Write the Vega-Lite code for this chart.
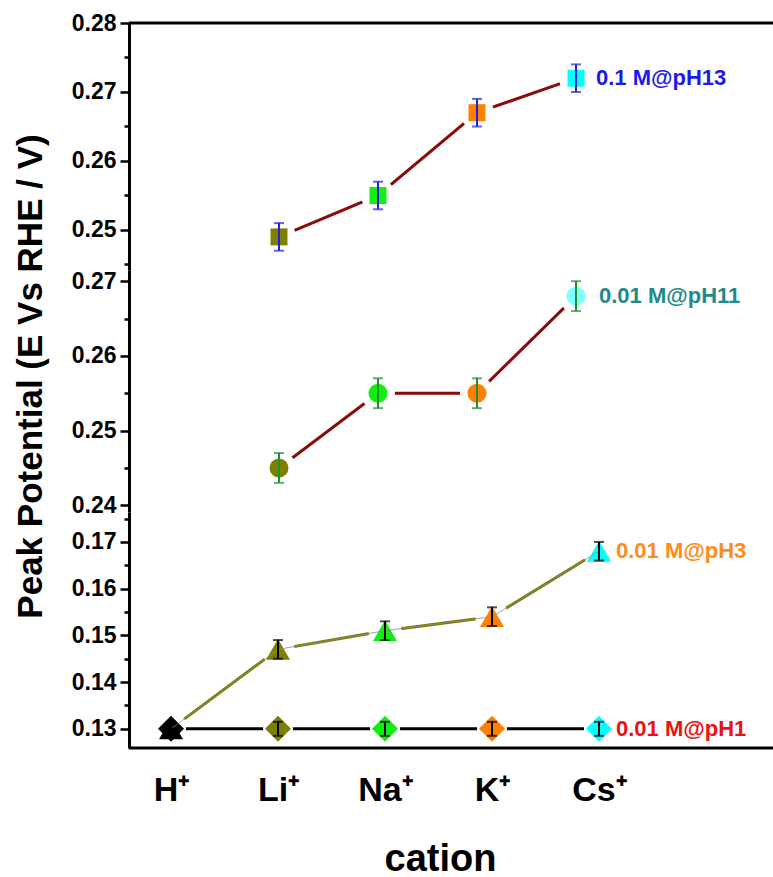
{
  "$schema": "https://vega.github.io/schema/vega-lite/v6.json",
  "padding": {"left": 12, "top": 12, "right": 0, "bottom": 0},
  "background": "white",
  "spacing": 0,
  "bounds": "flush",
  "config": {
    "view": {"stroke": null},
    "font": "Liberation Sans",
    "axis": {"labelFont": "Liberation Sans", "titleFont": "Liberation Sans", "labelFontWeight": "bold", "titleFontWeight": "bold", "domainColor": "black", "tickColor": "black", "labelColor": "black", "titleColor": "black", "grid": false, "zindex": 1},
    "text": {"font": "Liberation Sans", "fontWeight": "bold"}
  },
  "datasets": {
    "pH13": [
      {"cation": "Li", "v": 0.249, "e": 0.002},
      {"cation": "Na", "v": 0.255, "e": 0.002},
      {"cation": "K", "v": 0.267, "e": 0.002},
      {"cation": "Cs", "v": 0.272, "e": 0.002}
    ],
    "pH11": [
      {"cation": "Li", "v": 0.245, "e": 0.002},
      {"cation": "Na", "v": 0.255, "e": 0.002},
      {"cation": "K", "v": 0.255, "e": 0.002},
      {"cation": "Cs", "v": 0.268, "e": 0.002}
    ],
    "pH3": [
      {"cation": "H", "v": 0.13, "e": 0},
      {"cation": "Li", "v": 0.147, "e": 0.002},
      {"cation": "Na", "v": 0.151, "e": 0.002},
      {"cation": "K", "v": 0.154, "e": 0.002},
      {"cation": "Cs", "v": 0.168, "e": 0.002}
    ],
    "pH1": [
      {"cation": "H", "v": 0.13, "e": 0.0015},
      {"cation": "Li", "v": 0.13, "e": 0.0015},
      {"cation": "Na", "v": 0.13, "e": 0.0015},
      {"cation": "K", "v": 0.13, "e": 0.0015},
      {"cation": "Cs", "v": 0.13, "e": 0.0015}
    ],
    "labels": [
      {"series": "pH13", "cation": "Cs", "v": 0.272, "text": "0.1 M@pH13"},
      {"series": "pH11", "cation": "Cs", "v": 0.268, "text": "0.01 M@pH11"},
      {"series": "pH3", "cation": "Cs", "v": 0.168, "text": "0.01 M@pH3"},
      {"series": "pH1", "cation": "Cs", "v": 0.13, "text": "0.01 M@pH1"}
    ]
  },
  "resolve": {"scale": {"x": "independent", "y": "independent", "color": "shared"}},
  "vconcat": [
    {
      "width": 645,
      "height": 247,
      "layer": [
        {
          "data": {"name": "pH13"},
          "encoding": {
            "x": {"field": "cation", "type": "nominal", "scale": {"type": "point", "domain": ["H", "Li", "Na", "K", "Cs"], "padding": 0, "range": [51, 447]}, "axis": null},
            "y": {"field": "v", "type": "quantitative", "scale": {"domain": [0.2442, 0.28], "nice": false, "zero": false},
              "axis": {"values": [0.245, 0.25, 0.255, 0.26, 0.265, 0.27, 0.275, 0.28], "labelExpr": "round(datum.value*1000) % 10 == 0 ? format(datum.value, '.2f') : ''", "tickSize": {"condition": {"test": "round(datum.value*1000) % 10 != 0", "value": 5}, "value": 9}, "tickWidth": 2.5, "domainWidth": 3, "labelFontSize": 23, "labelPadding": 4, "labelOverlap": false, "title": null}}
          },
          "layer": [
            {"mark": {"type": "line", "color": "#8b0a0a", "strokeWidth": 3}, "encoding": {"order": {"value": null}}},
            {"mark": {"type": "point", "filled": true, "shape": "circle", "size": 1150, "color": "white", "opacity": 1}},
            {"mark": {"type": "point", "filled": true, "shape": "square", "size": 289, "opacity": 1},
              "encoding": {"color": {"field": "cation", "type": "nominal", "scale": {"domain": ["H", "Li", "Na", "K", "Cs"], "range": ["#000000", "#808000", "#11ee11", "#ff8000", "#00ffff"]}, "legend": null}}},
            {"mark": {"type": "errorbar", "ticks": true, "size": 10, "thickness": 2, "color": "#2020e0"}, "encoding": {"yError": {"field": "e"}}},
            {"data": {"name": "labels"}, "transform": [{"filter": "datum.series == 'pH13'"}],
              "mark": {"type": "text", "align": "left", "baseline": "middle", "dx": 20, "fontSize": 22, "color": "#1a1aee"},
              "encoding": {"text": {"field": "text"}}}
          ]
        },
        {
          "data": {"values": [{}]},
          "mark": {"type": "rule", "strokeWidth": 3, "color": "black"},
          "encoding": {"y": {"datum": 0.28, "type": "quantitative",
            "axis": {"values": [0.245, 0.25, 0.255, 0.26, 0.265, 0.27, 0.275, 0.28], "labelExpr": "round(datum.value*1000) % 10 == 0 ? format(datum.value, '.2f') : ''", "tickSize": {"condition": {"test": "round(datum.value*1000) % 10 != 0", "value": 5}, "value": 9}, "tickWidth": 2.5, "domainWidth": 3, "labelFontSize": 23, "labelPadding": 4, "labelOverlap": false, "title": null}}}
        }
      ]
    },
    {
      "width": 645,
      "height": 242,
      "data": {"name": "pH11"},
      "encoding": {
        "x": {"field": "cation", "type": "nominal", "scale": {"type": "point", "domain": ["H", "Li", "Na", "K", "Cs"], "padding": 0, "range": [51, 447]}, "axis": null},
        "y": {"field": "v", "type": "quantitative", "scale": {"domain": [0.2391, 0.2715], "nice": false, "zero": false},
          "axis": {"values": [0.24, 0.245, 0.25, 0.255, 0.26, 0.265, 0.27], "labelExpr": "round(datum.value*1000) % 10 == 0 ? format(datum.value, '.2f') : ''", "tickSize": {"condition": {"test": "round(datum.value*1000) % 10 != 0", "value": 5}, "value": 9}, "tickWidth": 2.5, "domainWidth": 3, "labelFontSize": 23, "labelPadding": 4, "labelOverlap": false,
            "title": "Peak Potential (E Vs RHE / V)", "titleFontSize": 35, "titleAngle": 270, "titleX": -88, "titleY": 106, "titleAlign": "center", "titleBaseline": "alphabetic"}}
      },
      "layer": [
        {"mark": {"type": "line", "color": "#8b0a0a", "strokeWidth": 3}, "encoding": {"order": {"value": null}}},
        {"mark": {"type": "point", "filled": true, "shape": "circle", "size": 1150, "color": "white", "opacity": 1}},
        {"mark": {"type": "point", "filled": true, "shape": "circle", "size": 361, "opacity": 1},
          "encoding": {"color": {"condition": {"test": "datum.cation == 'Cs'", "value": "#80ffff"}, "field": "cation", "type": "nominal", "legend": null}}},
        {"mark": {"type": "errorbar", "ticks": true, "size": 10, "thickness": 2, "color": "#1f8f2f"}, "encoding": {"yError": {"field": "e"}}},
        {"data": {"name": "labels"}, "transform": [{"filter": "datum.series == 'pH11'"}],
          "mark": {"type": "text", "align": "left", "baseline": "middle", "dx": 23, "fontSize": 22, "color": "#1f8a8a"},
          "encoding": {"text": {"field": "text"}}}
      ]
    },
    {
      "width": 645,
      "height": 236,
      "layer": [
        {
          "encoding": {
            "x": {"field": "cation", "type": "nominal", "scale": {"type": "point", "domain": ["H", "Li", "Na", "K", "Cs"], "padding": 0, "range": [42, 470]},
              "axis": {"orient": "bottom", "ticks": false, "domain": false, "labelFontSize": 34, "labelPadding": 52, "labelBaseline": "alphabetic", "labelAngle": 0, "labelExpr": "datum.value + '⁺'",
                "title": "cation", "titleFontSize": 38, "titleX": 311, "titleY": 122, "titleAlign": "center", "titleBaseline": "alphabetic",
                "encode": {"labels": {"update": {"fill": {"signal": "datum.value === 'H' ? '#000000' : datum.value === 'Li' ? '#808000' : datum.value === 'Na' ? '#11ee11' : datum.value === 'K' ? '#ff8000' : '#00ffff'"}}}}}},
            "y": {"field": "v", "type": "quantitative", "scale": {"domain": [0.1259, 0.1764], "nice": false, "zero": false},
              "axis": {"values": [0.13, 0.135, 0.14, 0.145, 0.15, 0.155, 0.16, 0.165, 0.17, 0.175], "labelExpr": "round(datum.value*1000) % 10 == 0 ? format(datum.value, '.2f') : ''", "tickSize": {"condition": {"test": "round(datum.value*1000) % 10 != 0", "value": 5}, "value": 9}, "tickWidth": 2.5, "domainWidth": 3, "labelFontSize": 23, "labelPadding": 4, "labelOverlap": false, "title": null}}
          },
          "layer": [
            {"data": {"name": "pH3"}, "mark": {"type": "line", "color": "#7a7a00", "strokeWidth": 3}, "encoding": {"order": {"value": null}}},
            {"data": {"name": "pH3"}, "mark": {"type": "point", "filled": true, "shape": "circle", "size": 1100, "color": "white", "opacity": 1}},
            {"data": {"name": "pH1"}, "mark": {"type": "line", "color": "#000000", "strokeWidth": 3}, "encoding": {"order": {"value": null}}},
            {"data": {"name": "pH1"}, "mark": {"type": "point", "filled": true, "shape": "circle", "size": 900, "color": "white", "opacity": 1}},
            {"data": {"name": "pH3"}, "mark": {"type": "point", "filled": true, "shape": "triangle-up", "size": 576, "opacity": 1},
              "encoding": {"color": {"field": "cation", "type": "nominal", "legend": null}}},
            {"data": {"name": "pH1"}, "mark": {"type": "point", "filled": true, "shape": "diamond", "size": 676, "opacity": 1},
              "encoding": {"color": {"field": "cation", "type": "nominal", "legend": null}}},
            {"data": {"name": "pH3"}, "mark": {"type": "line", "color": "#8a8a8a", "strokeWidth": 0.8}, "encoding": {"order": {"value": null}}},
            {"data": {"name": "pH3"}, "mark": {"type": "errorbar", "ticks": true, "size": 10, "thickness": 2, "color": "#000000"}, "encoding": {"yError": {"field": "e"}}},
            {"data": {"name": "pH1"}, "mark": {"type": "errorbar", "ticks": true, "size": 10, "thickness": 2, "color": "#000000"}, "encoding": {"yError": {"field": "e"}}},
            {"data": {"name": "labels"}, "transform": [{"filter": "datum.series == 'pH3'"}],
              "mark": {"type": "text", "align": "left", "baseline": "middle", "dx": 17, "fontSize": 22, "color": "#ff8c1a"},
              "encoding": {"text": {"field": "text"}}},
            {"data": {"name": "labels"}, "transform": [{"filter": "datum.series == 'pH1'"}],
              "mark": {"type": "text", "align": "left", "baseline": "middle", "dx": 17, "fontSize": 22, "color": "#ee1111"},
              "encoding": {"text": {"field": "text"}}}
          ]
        },
        {
          "data": {"values": [{}]},
          "mark": {"type": "rule", "strokeWidth": 3, "color": "black"},
          "encoding": {"y": {"datum": 0.1259, "type": "quantitative",
            "axis": {"values": [0.13, 0.135, 0.14, 0.145, 0.15, 0.155, 0.16, 0.165, 0.17, 0.175], "labelExpr": "round(datum.value*1000) % 10 == 0 ? format(datum.value, '.2f') : ''", "tickSize": {"condition": {"test": "round(datum.value*1000) % 10 != 0", "value": 5}, "value": 9}, "tickWidth": 2.5, "domainWidth": 3, "labelFontSize": 23, "labelPadding": 4, "labelOverlap": false, "title": null}}}
        }
      ]
    }
  ]
}
